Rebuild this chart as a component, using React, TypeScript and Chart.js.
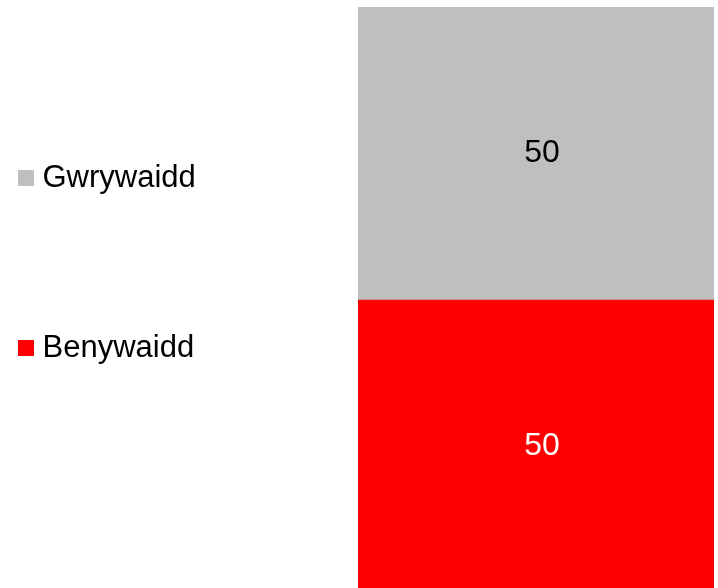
import React, { useEffect, useRef } from 'react';
import { Chart, registerables } from 'chart.js';

Chart.register(...registerables);

const categories = [''];
const seriesNames = ['Benywaidd', 'Gwrywaidd'];
const benywaidd = [50];
const gwrywaidd = [50];
const seriesColors = ['#FF0000', '#BFBFBF'];
const valueLabelColors = ['#FFFFFF', '#000000'];

const FONT = 'Arial, "Liberation Sans", Helvetica, sans-serif';
const LEGEND_W = 200;

const valueLabels = {
  id: 'valueLabels',
  afterDatasetsDraw(chart: any) {
    const ctx = chart.ctx;
    chart.data.datasets.forEach((ds: any, di: number) => {
      const meta = chart.getDatasetMeta(di);
      meta.data.forEach((el: any, i: number) => {
        const { x, y, base } = el.getProps(['x', 'y', 'base'], true);
        ctx.save();
        ctx.fillStyle = valueLabelColors[di];
        ctx.font = `32px ${FONT}`;
        ctx.textAlign = 'center';
        ctx.textBaseline = 'middle';
        ctx.fillText(String(ds.data[i]), x + 6, (y + base) / 2);
        ctx.restore();
      });
    });
  },
};

export default function App() {
  const ref = useRef<HTMLCanvasElement | null>(null);
  useEffect(() => {
    if (!ref.current) return;
    const seriesData = [benywaidd, gwrywaidd];
    const chart = new Chart(ref.current, {
      type: 'bar',
      data: {
        labels: categories,
        datasets: seriesNames.map((name, i) => ({
          label: name,
          data: seriesData[i],
          backgroundColor: seriesColors[i],
          borderWidth: 0,
          barPercentage: 1,
          categoryPercentage: 1,
        })),
      },
      options: {
        animation: false,
        responsive: true,
        maintainAspectRatio: false,
        layout: { padding: { top: 7, right: 4, left: 0, bottom: 0 } },
        scales: {
          x: { stacked: true, display: false },
          y: {
            stacked: true,
            min: 0,
            max: 100,
            display: true,
            grid: { display: false },
            border: { display: false },
            ticks: { display: false },
            afterFit: (s: any) => {
              s.width = 358 - LEGEND_W;
            },
          },
        },
        plugins: {
          tooltip: { enabled: false },
          legend: {
            position: 'left',
            align: 'start',
            reverse: true,
            maxWidth: LEGEND_W,
            title: {
              display: true,
              text: '',
              font: { size: 10, lineHeight: 1 },
              padding: { top: 0, bottom: 120.5 },
            },
            labels: {
              padding: 25,
              boxWidth: 2,
              boxHeight: 2,
              color: '#000000',
              font: { size: 31, lineHeight: 145 / 31, family: FONT },
              generateLabels: (c: any) => {
                const items = Chart.defaults.plugins.legend.labels.generateLabels(c);
                return items.map((it: any) => ({
                  ...it,
                  text: [it.text],
                  strokeStyle: it.fillStyle,
                  lineWidth: 14,
                  lineJoin: 'miter',
                  lineCap: 'butt',
                  borderRadius: 0,
                  fontColor: '#000000',
                }));
              },
            },
          },
        },
      } as any,
      plugins: [valueLabels],
    });
    return () => chart.destroy();
  }, []);

  return (
    <div style={{ position: 'fixed', left: 0, top: 0, width: 718, height: 588, overflow: 'hidden', background: '#fff' }}>
      <div style={{ position: 'relative', width: 718, height: 593 }}>
        <canvas ref={ref} />
      </div>
    </div>
  );
}
